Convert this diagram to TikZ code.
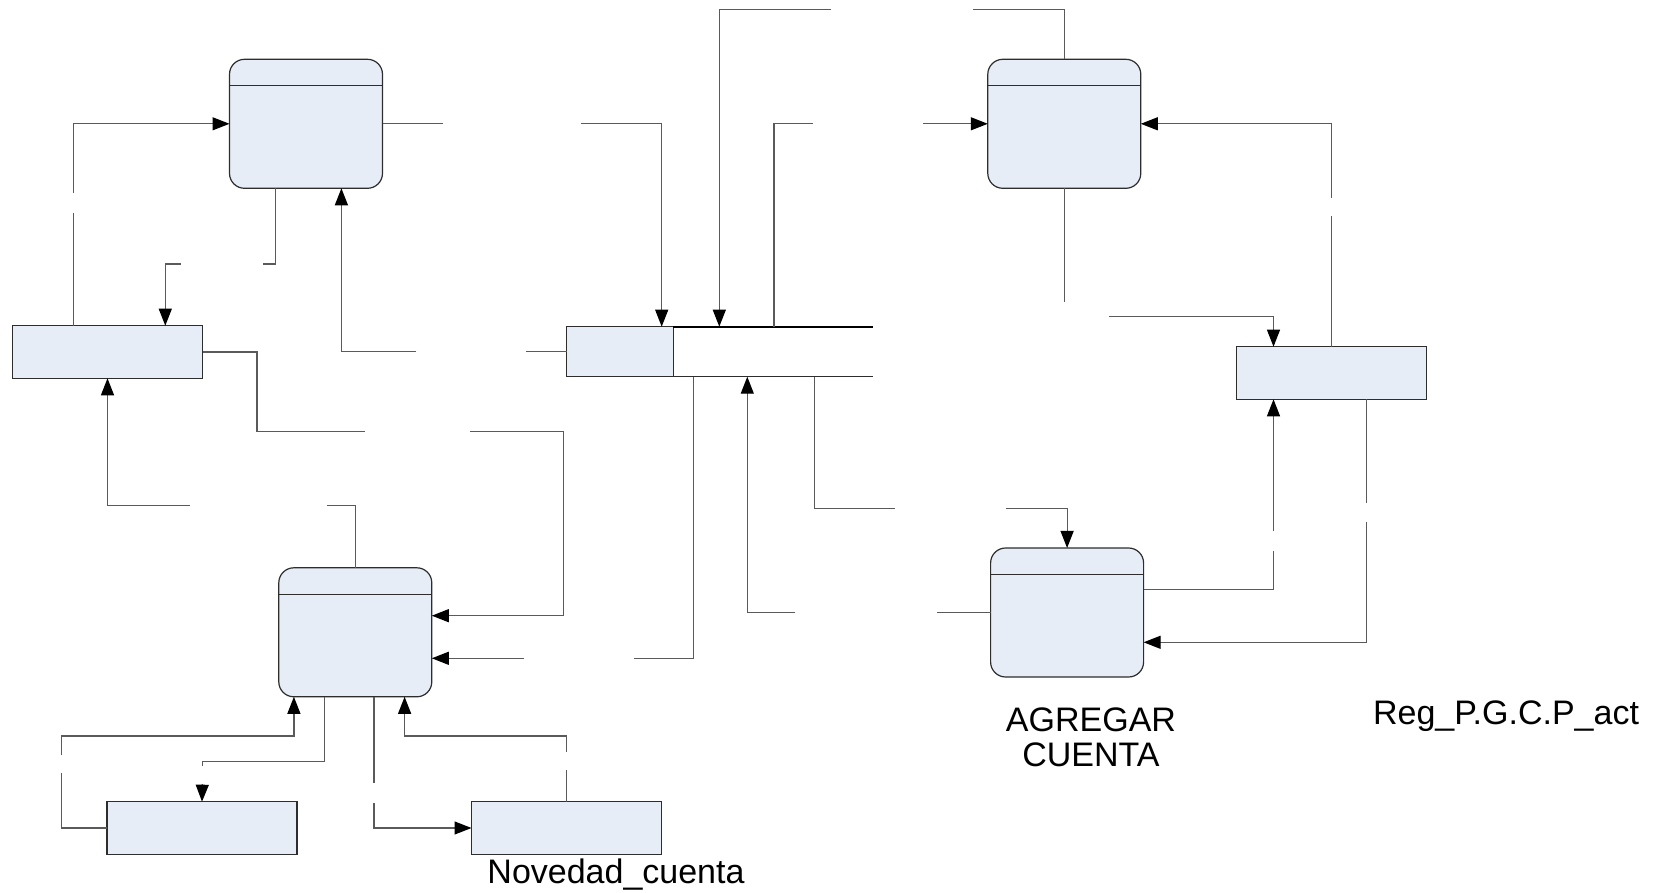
\documentclass[tikz,border=0pt]{standalone}
\usepackage{fontspec}
\setmainfont{Liberation Sans}
\usetikzlibrary{arrows.meta}

\definecolor{boxfill}{RGB}{230,237,247}
\definecolor{boxline}{RGB}{45,45,45}
\definecolor{flowline}{RGB}{90,90,90}

\tikzset{
  process/.style={draw=boxline, fill=boxfill, line width=0.6pt, rounded corners=7.5pt,
    minimum width=76.5pt, minimum height=64.5pt, inner sep=0pt, outer sep=0pt},
  entity/.style={draw=boxline, fill=boxfill, line width=0.6pt,
    minimum width=95pt, minimum height=26.3pt, inner sep=0pt, outer sep=0pt},
  storeid/.style={draw=boxline, fill=boxfill, line width=0.6pt,
    minimum width=53.3pt, minimum height=25pt, inner sep=0pt, outer sep=0pt},
  flow/.style={draw=flowline, line width=0.6pt},
  arr/.style={-{Triangle[length=8.5pt,width=6.5pt,color=black]}},
  lbl/.style={font=\fontsize{17pt}{17.5pt}\selectfont, inner sep=0pt, align=center}
}

\begin{document}
\begin{tikzpicture}[x=0.5pt, y=-0.5pt]
\useasboundingbox (0,0) rectangle (1662,893);

% processes
\node[process] (P1) at (306,123.8) {};
\node[process] (P2) at (1064.3,123.8) {};
\node[process] (P3) at (355.3,632.3) {};
\node[process] (P4) at (1067.1,612.5) {};
\foreach \p in {P1,P2,P3,P4}
  \draw[boxline, line width=0.6pt] ([yshift=-13.3pt]\p.north west) -- ([yshift=-13.3pt]\p.north east);

% external entities
\node[entity] (E1) at (107.5,352) {};
\node[entity] (E2) at (202,828) {};
\node[entity] (E3) at (566.5,828) {};
\node[entity] (E4) at (1331.4,373) {};

% data store
\node[storeid] (D1) at (620,351.7) {};
\coordinate (Dend) at (873.3,326.7);
\draw[black, line width=1.1pt] (D1.north east) -- (Dend);
\draw[boxline, line width=0.6pt] (D1.south east) -- (Dend |- D1.south);

% labels
\node[lbl, anchor=base] (lblNovedad) at (616,883) {Novedad\_cuenta};
\node[lbl] (lblAgregar) at (1091,737.5) {AGREGAR\\CUENTA};
\node[lbl, anchor=base] (lblReg) at (1506,724) {Reg\_P.G.C.P\_act};

% gap ends
\coordinate (g1a) at (73.5,213);   \coordinate (g1b) at (73.5,193);
\coordinate (g2a) at (262.5,264);  \coordinate (g2b) at (180.6,264);
\coordinate (g3a) at (443,123.8);  \coordinate (g3b) at (581,123.8);
\coordinate (g4a) at (526,351.7);  \coordinate (g4b) at (416,351.7);
\coordinate (g5a) at (364.7,431.7); \coordinate (g5b) at (470,431.7);
\coordinate (g6a) at (327,505.7);  \coordinate (g6b) at (190,505.7);
\coordinate (g7a) at (973.4,9.3);  \coordinate (g7b) at (831,9.3);
\coordinate (g8a) at (812.7,123.8); \coordinate (g8b) at (923,123.8);
\coordinate (g9a) at (1064.3,301.7); \coordinate (g9b) at (1109,316.7);
\coordinate (g10a) at (1331.4,216); \coordinate (g10b) at (1331.4,197.7);
\coordinate (g11a) at (634,658.3); \coordinate (g11b) at (524,658.3);
\coordinate (g12a) at (937.4,612.5); \coordinate (g12b) at (795,612.5);
\coordinate (g13a) at (894.6,508.3); \coordinate (g13b) at (1005.6,508.3);
\coordinate (g14a) at (1273.5,551); \coordinate (g14b) at (1273.5,531);
\coordinate (g15a) at (1366.8,503.3); \coordinate (g15b) at (1366.8,521.7);
\coordinate (g16a) at (61.7,773.3); \coordinate (g16b) at (61.7,755);
\coordinate (g17a) at (202.3,765.7); \coordinate (g17b) at (202.3,784);
\coordinate (g18a) at (374,783);   \coordinate (g18b) at (374,803);
\coordinate (g19a) at (566.5,770); \coordinate (g19b) at (566.5,751.7);

% flows
\draw[flow] ([xshift=-17pt]E1.north) -- (g1a);
\draw[flow,arr] (g1b) |- (P1);
\draw[flow] ([xshift=-15.25pt]P1.south) |- (g2a);
\draw[flow,arr] (g2b) -| ([xshift=28.9pt]E1.north);
\draw[flow] (P1) -- (g3a);
\draw[flow,arr] (g3b) -| ([xshift=20.85pt]D1.north);
\draw[flow] (D1) -- (g4a);
\draw[flow,arr] (g4b) -| ([xshift=17.7pt]P1.south);
\draw[flow] (E1.east) -| (257,431.7) -- (g5a);
\draw[flow,arr] (g5b) -| (563.3,615.7) -- ([yshift=8.3pt]P3.east);
\draw[flow] (P3.north) |- (g6a);
\draw[flow,arr] (g6b) -| (E1.south);

\draw[flow] (P2.north) |- (g7a);
\draw[flow,arr] (g7b) -| ([xshift=23pt]D1.north east);
\draw[flow] ([xshift=50.35pt]D1.north east) |- (g8a);
\draw[flow,arr] (g8b) -- (P2);
\draw[flow] (P2.south) -- (g9a);
\draw[flow,arr] (g9b) -| ([xshift=-28.95pt]E4.north);
\draw[flow] (E4.north) -- (g10a);
\draw[flow,arr] (g10b) |- (P2);

\draw[flow] ([xshift=10pt]D1.south east) |- (g11a);
\draw[flow,arr] (g11b) -- ([yshift=-13pt]P3.east);
\draw[flow] (P4) -- (g12a);
\draw[flow,arr] (g12b) -| ([xshift=37pt]D1.south east);
\draw[flow] ([xshift=70.5pt]D1.south east) |- (g13a);
\draw[flow,arr] (g13b) -| (P4.north);
\draw[flow] ([yshift=11.6pt]P4.east) -| (g14a);
\draw[flow,arr] (g14b) -- ([xshift=-28.95pt]E4.south);
\draw[flow] ([xshift=17.7pt]E4.south) -- (g15a);
\draw[flow,arr] (g15b) |- ([yshift=-14.9pt]P4.east);

\draw[flow] (E2) -| (g16a);
\draw[flow,arr] (g16b) -- (61.7,736) -| ([xshift=-30.7pt]P3.south);
\draw[flow] ([xshift=-15.4pt]P3.south) |- (202.3,761.7) -- (g17a);
\draw[flow,arr] (g17b) -- (E2.north);
\draw[flow] ([xshift=9.35pt]P3.south) -- (g18a);
\draw[flow,arr] (g18b) |- (E3);
\draw[flow] (E3.north) -- (g19a);
\draw[flow,arr] (g19b) -- (566.5,736) -| ([xshift=24.65pt]P3.south);
\end{tikzpicture}
\end{document}
